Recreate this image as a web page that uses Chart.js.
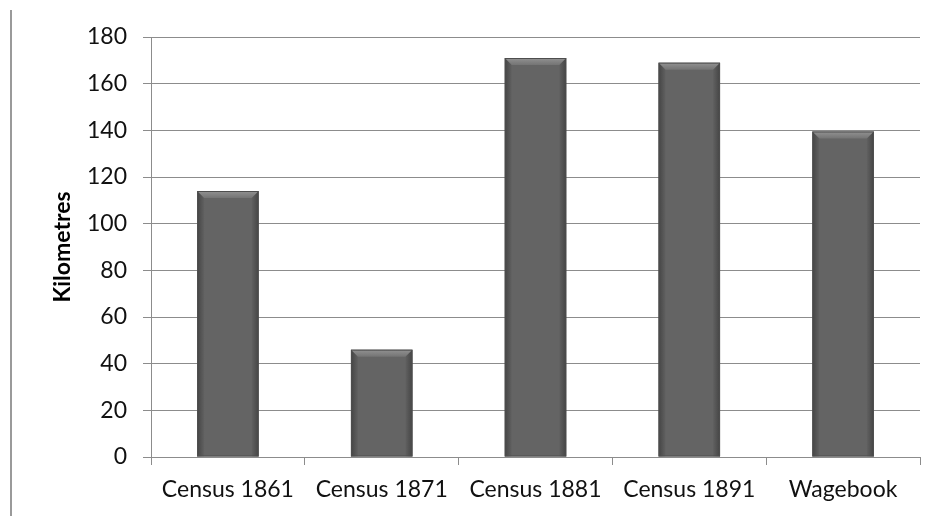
<!DOCTYPE html>
<html>
<head>
<meta charset="utf-8">
<script src="https://cdn.jsdelivr.net/npm/chart.js@4/dist/chart.umd.min.js"></script>
<style>
html,body{margin:0;padding:0;background:#fff;}
#wrap{position:absolute;left:0;top:0;width:937px;height:516px;}
#edge{position:absolute;left:10px;top:10px;width:2px;height:506px;background:#9a9a9a;}
canvas{position:absolute;left:0;top:0;}
</style>
</head>
<body>
<div id="wrap"><div id="edge"></div><canvas id="c" width="937" height="516"></canvas></div>
<script>
const categories = ["Census 1861","Census 1871","Census 1881","Census 1891","Wagebook"];
const kilometres = [114, 46, 171, 169, 139.5];
const yTicks = [0,20,40,60,80,100,120,140,160,180];
const axisTitle = "Kilometres";

const bevelPlugin = {
  id:'bevel',
  afterDatasetsDraw(chart){
    const ctx = chart.ctx;
    const meta = chart.getDatasetMeta(0);
    meta.data.forEach(bar=>{
      const w = bar.width, x0 = bar.x - w/2, x1 = bar.x + w/2, y0 = bar.y, y1 = bar.base;
      const b = 7;
      ctx.save();
      ctx.beginPath();
      ctx.moveTo(x0,y0);ctx.lineTo(x1,y0);ctx.lineTo(x1-b,y0+b);ctx.lineTo(x0+b,y0+b);ctx.closePath();
      const g = ctx.createLinearGradient(0,y0,0,y0+b);
      g.addColorStop(0,'#929292');g.addColorStop(1,'#747474');
      ctx.fillStyle=g;ctx.fill();
      const gl = ctx.createLinearGradient(x0,0,x0+b,0);
      gl.addColorStop(0,'rgba(30,30,30,0.45)');gl.addColorStop(1,'rgba(30,30,30,0.05)');
      ctx.beginPath();
      ctx.moveTo(x0,y0);ctx.lineTo(x0+b,y0+b);ctx.lineTo(x0+b,y1);ctx.lineTo(x0,y1);ctx.closePath();
      ctx.fillStyle=gl;ctx.fill();
      const gr = ctx.createLinearGradient(x1,0,x1-b,0);
      gr.addColorStop(0,'rgba(30,30,30,0.45)');gr.addColorStop(1,'rgba(30,30,30,0.05)');
      ctx.beginPath();
      ctx.moveTo(x1,y0);ctx.lineTo(x1-b,y0+b);ctx.lineTo(x1-b,y1);ctx.lineTo(x1,y1);ctx.closePath();
      ctx.fillStyle=gr;ctx.fill();
      ctx.strokeStyle='#4e4e4e';ctx.lineWidth=1;
      ctx.strokeRect(x0+0.5,y0+0.5,w-1,y1-y0-1);
      ctx.restore();
    });
  }
};

new Chart(document.getElementById('c'),{
  type:'bar',
  data:{labels:categories,datasets:[{data:kilometres,backgroundColor:'#646464',borderWidth:0,barPercentage:0.4,categoryPercentage:1}]},
  options:{
    responsive:false,animation:false,
    layout:{padding:{left:0,right:17,top:37,bottom:0}},
    plugins:{legend:{display:false},tooltip:{enabled:false}},
    scales:{
      x:{
        afterFit(s){s.height=59;},
        grid:{display:true,drawOnChartArea:false,drawTicks:true,tickLength:8,color:'#8c8c8c',offset:true},
        border:{display:true,color:'#8c8c8c'},
        ticks:{color:'#111',font:{family:'Lato',size:23},padding:11}
      },
      y:{
        min:0,max:180,
        afterBuildTicks(s){s.ticks=yTicks.map(v=>({value:v}));},
        afterFit(s){s.width=151;},
        grid:{color:'#8c8c8c',tickLength:8},
        border:{display:true,color:'#8c8c8c'},
        ticks:{color:'#111',font:{family:'Lato',size:23},padding:16},
        title:{display:true,text:axisTitle,color:'#000',font:{family:'Lato',size:23,weight:'bold'},padding:{top:49,bottom:0}}
      }
    }
  },
  plugins:[bevelPlugin]
});
</script>
</body>
</html>
